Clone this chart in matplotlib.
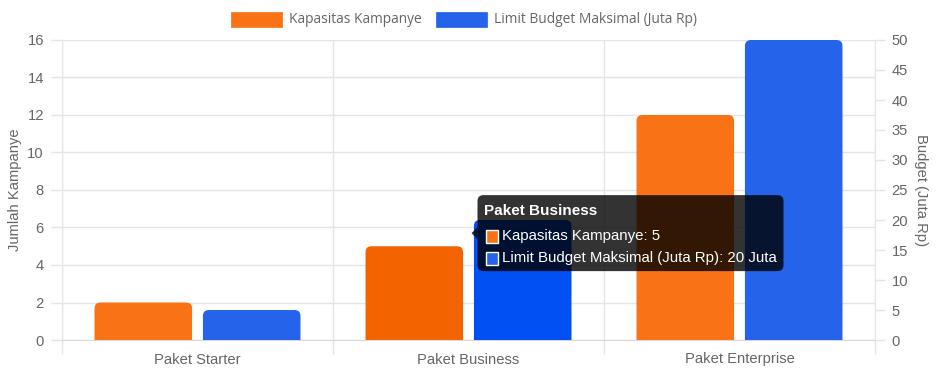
import matplotlib
matplotlib.use("Agg")
import matplotlib.pyplot as plt
from matplotlib.patches import FancyBboxPatch, Rectangle, Polygon
import numpy as np

categories = ["Paket Starter", "Paket Business", "Paket Enterprise"]
kapasitas = [2, 5, 12]
budget = [5, 20, 50]
series_names = ["Kapasitas Kampanye", "Limit Budget Maksimal (Juta Rp)"]
left_ticks = [0, 2, 4, 6, 8, 10, 12, 14, 16]
right_ticks = [0, 5, 10, 15, 20, 25, 30, 35, 40, 45, 50]
hover_index = 1

ORANGE = "#f97316"
BLUE = "#2563eb"
ORANGE_H = "#f36400"
BLUE_H = "#0050f4"
TXT = "#666666"
GRID = "#e5e5e5"
FONT = "Liberation Sans"
FS = 10.6

W, H = 938, 375
fig = plt.figure(figsize=(W / 100, H / 100), dpi=100)
L, R, B, T = 62, 875, 35, 335
ax = fig.add_axes([L / W, B / H, (R - L) / W, (T - B) / H])
ax2 = ax.twinx()

n = len(categories)
x = np.arange(n)
ax.set_xlim(-0.5, n - 0.5)
ax.set_ylim(left_ticks[0], left_ticks[-1])
ax2.set_ylim(right_ticks[0], right_ticks[-1])

# grid and ticks
ax.set_yticks(left_ticks)
ax2.set_yticks(right_ticks)
ax.set_xticks(x)
ax.set_xticks(np.arange(n + 1) - 0.5, minor=True)
ax.set_xticklabels(categories, fontsize=FS, color=TXT, family=FONT)
ax.tick_params(axis="x", which="major", length=0, pad=9)
ax.tick_params(axis="x", which="minor", length=10, color=GRID, width=1)
ax.tick_params(axis="y", length=8, color=GRID, width=1, labelsize=FS,
               labelcolor=TXT, pad=5)
ax2.tick_params(axis="y", length=7, color=GRID, width=1, labelsize=FS,
                labelcolor=TXT, pad=5)
for lab in ax.get_yticklabels() + ax2.get_yticklabels():
    lab.set_family(FONT)
ax.yaxis.grid(True, color=GRID, linewidth=1)
ax.xaxis.grid(True, which="minor", color=GRID, linewidth=1)
ax.set_axisbelow(True)
for a in (ax, ax2):
    for s in a.spines.values():
        s.set_visible(False)
ax.spines["left"].set_visible(True)
ax.spines["left"].set_color(GRID)
ax.spines["bottom"].set_visible(True)
ax.spines["bottom"].set_color("#d9d9d9")
ax2.spines["right"].set_visible(True)
ax2.spines["right"].set_color(GRID)

ax.set_ylabel("Jumlah Kampanye", fontsize=FS, color=TXT, family=FONT, labelpad=4)
ax2.set_ylabel("Budget (Juta Rp)", fontsize=FS, color=TXT, family=FONT,
               rotation=-90, labelpad=14)

bw = 0.36
off = 0.2
bars1 = ax.bar(x - off, kapasitas, bw, color=ORANGE, zorder=2)
bars2 = ax2.bar(x + off, budget, bw, color=BLUE, zorder=2)

fig.canvas.draw()
RAD = 6  # px


def round_bars(axis, bars, colors):
    inv = axis.transData.inverted()
    p0 = inv.transform((0, 0))
    p1 = inv.transform((1, 1))
    xpp = p1[0] - p0[0]
    ypp = p1[1] - p0[1]
    for rect, c in zip(bars.patches, colors):
        rect.set_visible(False)
        r = RAD * xpp
        ry = RAD * ypp
        patch = FancyBboxPatch((rect.get_x(), rect.get_y() - ry),
                               rect.get_width(), rect.get_height() + ry,
                               boxstyle=f"round,pad=0,rounding_size={r}",
                               mutation_aspect=ypp / xpp,
                               facecolor=c, edgecolor="none", zorder=2)
        axis.add_patch(patch)


c1 = [ORANGE_H if i == hover_index else ORANGE for i in range(n)]
c2 = [BLUE_H if i == hover_index else BLUE for i in range(n)]
round_bars(ax, bars1, c1)
round_bars(ax2, bars2, c2)


def fx(px):
    return px / W


def fy(py):
    return 1 - py / H


leg_items = [(231, 289, ORANGE, series_names[0]), (436, 494, BLUE, series_names[1])]
for bx, tx, c, name in leg_items:
    fig.patches.append(Rectangle((fx(bx), fy(27)), 51 / W, 15 / H, transform=fig.transFigure,
                                 facecolor=c, edgecolor=c, lw=0.5))
    fig.text(fx(tx), fy(19.5), name, fontsize=9.9, color=TXT, family="Open Sans",
             va="center", ha="left")

# tooltip anchored at average of hovered bar tops
pa = ax.transData.transform((x[hover_index] - off, kapasitas[hover_index]))
pb = ax2.transData.transform((x[hover_index] + off, budget[hover_index]))
cx = (pa[0] + pb[0]) / 2
cy = (pa[1] + pb[1]) / 2
cy_top = H - cy  # top-origin
caret = 6
bx0 = cx + caret + 3
bw_px, bh_px = 306, 76
by0 = cy_top - bh_px / 2
tip = FancyBboxPatch((fx(bx0), fy(by0 + bh_px)), bw_px / W, bh_px / H,
                     boxstyle=f"round,pad=0,rounding_size={6 / W}",
                     mutation_aspect=(1 / H) / (1 / W),
                     transform=fig.transFigure, facecolor=(0, 0, 0, 0.8),
                     edgecolor="none", zorder=10)
fig.patches.append(tip)
tri = Polygon([(fx(cx + 3), fy(cy_top)), (fx(bx0), fy(cy_top - caret)),
               (fx(bx0), fy(cy_top + caret))], closed=True,
              transform=fig.transFigure, facecolor=(0, 0, 0, 0.8),
              edgecolor="none", zorder=10)
fig.patches.append(tri)
fig.text(fx(bx0 + 7), fy(by0 + 16), categories[hover_index], fontsize=11,
         fontweight="bold", color="white", family=FONT, va="center", ha="left", zorder=11)
lines = [f"{series_names[0]}: {kapasitas[hover_index]}",
         f"{series_names[1]}: {budget[hover_index]} Juta"]
for i, (txt, c) in enumerate(zip(lines, [ORANGE, BLUE])):
    ly = by0 + 41 + i * 22
    fig.patches.append(Rectangle((fx(bx0 + 8), fy(ly + 6.5)), 13 / W, 13 / H,
                                 transform=fig.transFigure, facecolor=c,
                                 edgecolor="white", lw=1, zorder=11))
    fig.text(fx(bx0 + 25), fy(ly), txt, fontsize=10.8, color="white", family=FONT,
             va="center", ha="left", zorder=11)

fig.savefig("out.png", dpi=100)
